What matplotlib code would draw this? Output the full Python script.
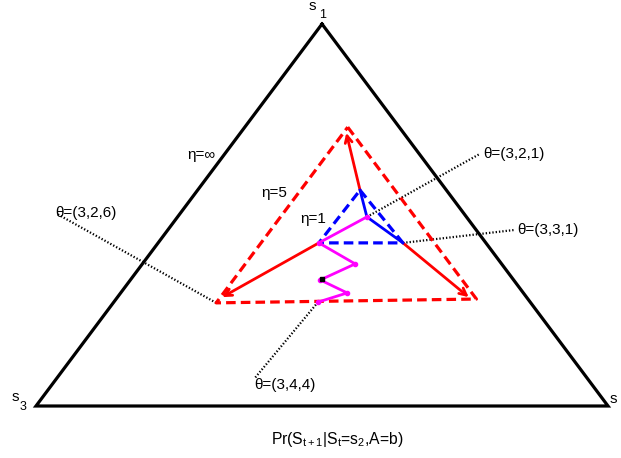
import numpy as np
import matplotlib
matplotlib.use("Agg")
import matplotlib.pyplot as plt

plt.rcParams['font.family'] = ['Liberation Sans', 'DejaVu Sans']
plt.rcParams['mathtext.fontset'] = 'custom'
plt.rcParams['mathtext.rm'] = 'Liberation Sans'
plt.rcParams['mathtext.it'] = 'Liberation Sans'

# points as probability vectors (p1, p2, p3) over states s1, s2, s3
simplex = [(1, 0, 0), (0, 1, 0), (0, 0, 1)]
eta5_tri = [(0.73, 0.18, 0.09), (0.28, 0.63, 0.09), (0.27, 0.18, 0.55)]
eta1_tri = [(0.565, 0.284, 0.151), (0.427, 0.428, 0.145), (0.427, 0.281, 0.292)]
blue_path = [(0.565, 0.284, 0.151), (0.495, 0.331, 0.174), (0.427, 0.428, 0.145)]
magenta_path = [(0.495, 0.331, 0.174), (0.427, 0.281, 0.292), (0.372, 0.372, 0.256),
                (0.33, 0.332, 0.338), (0.296, 0.396, 0.308), (0.272, 0.357, 0.371)]
center = (1 / 3, 1 / 3, 1 / 3)
red_arrows = [((0.565, 0.284, 0.151), (0.715, 0.185, 0.10)),
              ((0.427, 0.281, 0.292), (0.285, 0.183, 0.532)),
              ((0.427, 0.428, 0.145), (0.285, 0.614, 0.101))]
theta_labels = ['θ=(3,2,1)', 'θ=(3,3,1)', 'θ=(3,2,6)', 'θ=(3,4,4)']
theta_from = [(0.495, 0.331, 0.174), (0.427, 0.428, 0.145),
              (0.27, 0.18, 0.55), (0.272, 0.357, 0.371)]
theta_to = [(0.66, 0.446, -0.106), (0.461, 0.607, -0.068),
            (0.503, -0.215, 0.712), (0.073, 0.346, 0.581)]
eta_labels = ['η=∞', 'η=5', 'η=1']
eta_pos = [(0.657, -0.04, 0.383), (0.558, 0.137, 0.305), (0.49, 0.239, 0.271)]
vertex_labels = ['1', '2', '3']
vertex_pos = [(1, 0, 0), (0, 1, 0), (0, 0, 1)]


def proj(p):
    p = np.atleast_2d(p)
    return p[:, 1] + p[:, 0] / 2, p[:, 0]


fig = plt.figure(figsize=(6.21, 4.58), dpi=100)
ax = fig.add_axes([36 / 621, 52 / 458, 572 / 621, 382 / 458])
ax.set_xlim(0, 1)
ax.set_ylim(0, 1)
ax.axis('off')

x, y = proj(simplex + simplex[:1])
ax.plot(x, y, color='black', lw=2.3, clip_on=False, solid_joinstyle='miter')

for p0, p1 in zip(theta_from, theta_to):
    x, y = proj([p0, p1])
    ax.plot(x, y, color='black', lw=1.6, ls=(0, (0.6, 0.9)), clip_on=False, zorder=1)

x, y = proj(eta5_tri + eta5_tri[:1])
ax.plot(x, y, color='red', lw=2.3, ls=(0, (3, 1.6)), clip_on=False, zorder=2)
x, y = proj(eta1_tri + eta1_tri[:1])
ax.plot(x, y, color='blue', lw=2.3, ls=(0, (3, 1.6)), zorder=3)

for p0, p1 in red_arrows:
    x, y = proj([p0, p1])
    ax.annotate('', xy=(x[1], y[1]), xytext=(x[0], y[0]),
                arrowprops=dict(arrowstyle='->,head_length=0.5,head_width=0.25',
                                color='red', lw=2.0, shrinkA=0, shrinkB=0), zorder=4)

x, y = proj(blue_path)
ax.plot(x, y, color='blue', lw=2.0, zorder=5)
x, y = proj(magenta_path)
ax.plot(x, y, color='magenta', lw=2.0, marker='o', ms=3, zorder=5)
x, y = proj(center)
ax.plot(x, y, 's', color='black', ms=3, zorder=6)

# label offsets from the end of each dotted line, in pixels
offsets = [(3, 0), (2, 0), (-2, 1), (-1, -7)]
for lab, p, off in zip(theta_labels, theta_to, offsets):
    x, y = proj(p)
    ax.annotate(lab, xy=(x[0], y[0]), xytext=off, textcoords='offset pixels',
                fontsize=11, ha='left', va='center', annotation_clip=False)

for lab, p in zip(eta_labels, eta_pos):
    x, y = proj(p)
    ax.text(x[0], y[0], lab, fontsize=11, ha='center', va='center')

# vertex names: "s" with a lowered subscript; the s2 subscript falls past the right edge
s_off = [(-10, 18), (5, 7), (-21, 9)]
sub_off = [(1, 9), (22, -3), (-13, -1)]
for lab, p, so, bo in zip(vertex_labels, vertex_pos, s_off, sub_off):
    x, y = proj(p)
    ax.annotate('s', xy=(x[0], y[0]), xytext=so, textcoords='offset pixels',
                fontsize=11, ha='center', va='center', annotation_clip=False)
    ax.annotate(lab, xy=(x[0], y[0]), xytext=bo, textcoords='offset pixels',
                fontsize=9, ha='center', va='center', annotation_clip=False)

ax.text(0.526, -0.089, r'Pr(S$_{\mathrm{t+1}}$|S$_{\mathrm{t}}$=s$_2$,A=b)', fontsize=11.3,
        ha='center', va='center')

fig.savefig('out.png', dpi=100)
